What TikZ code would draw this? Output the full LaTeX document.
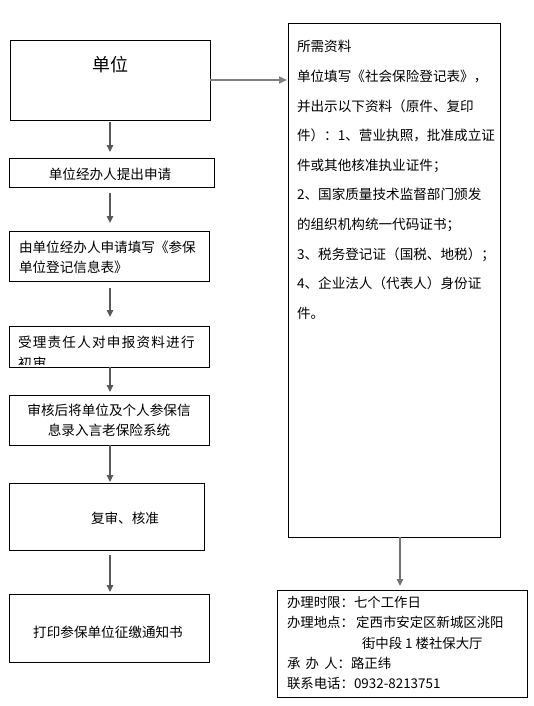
\documentclass[tikz,border=0pt]{standalone}
\usepackage{fontspec}
\setmainfont{Noto Sans CJK SC}
\usetikzlibrary{arrows.meta}
\begin{document}
\begin{tikzpicture}[x=1pt,y=-1pt,
  box/.style={draw=black,line width=0.8pt,minimum width=#1,inner sep=0pt,outer sep=0pt},
  txt/.style={inner sep=0pt,outer sep=0pt,font=\fontsize{13.6}{20}\selectfont},
  flow/.style={draw=black!65,line width=1.1pt,-{Triangle[length=7pt,width=6.5pt]}},
  side/.style={draw=black!50,line width=2pt,-{Triangle[length=8pt,width=7pt]}}
]
\useasboundingbox (0,0) rectangle (534,706);
% boxes
\node[box=200pt,minimum height=80pt] (b1) at (110,80) {};
\node[box=205pt,minimum height=29pt] (b2) at (111.5,172.5) {};
\node[box=200pt,minimum height=50pt] (b3) at (109,256) {};
\node[box=200pt,minimum height=41pt] (b4) at (109,346.5) {};
\node[box=200pt,minimum height=50pt] (b5) at (109,420) {};
\node[box=195pt,minimum height=67pt] (b6) at (106.5,516.5) {};
\node[box=200pt,minimum height=68pt] (b7) at (109,628) {};
\node[box=212pt,minimum height=514pt] (r1) at (394,280) {};
\node[box=250pt,minimum height=107pt] (r2) at (402,643.5) {};
% texts
\node[txt,font=\fontsize{18}{20}\selectfont] (t1) at (110,65) {单位};
\node[txt] (t2) at (110,174) {单位经办人提出申请};
\node[txt,anchor=west,align=left] (t3) at (19,257) {由单位经办人申请填写《参保\\单位登记信息表》};
\begin{scope}
  \clip (10,327) rectangle (208,364);
  \node[txt,anchor=north west,align=left,font=\fontsize{13.6}{21}\selectfont\addfontfeature{LetterSpace=9}] (t4) at (18,336) {受理责任人对申报资料进行\\初审};
\end{scope}
\node[txt,align=center] (t5) at (109,420) {审核后将单位及个人参保信\\息录入言老保险系统};
\node[txt] (t6) at (125,518) {复审、核准};
\node[txt] (t7) at (108,632) {打印参保单位征缴通知书};
\node[txt,anchor=west,align=left,font=\fontsize{13.6}{29.6}\selectfont] (tr1) at (297,180) {所需资料\\
单位填写《社会保险登记表》，\\
并出示以下资料（原件、复印\\
件）：1、营业执照，批准成立证\\
件或其他核准执业证件；\\
2、国家质量技术监督部门颁发\\
的组织机构统一代码证书；\\
3、税务登记证（国税、地税）；\\
4、企业法人（代表人）身份证\\
件。};
\node[txt,anchor=west,align=left,font=\fontsize{13.4}{20.2}\selectfont] (tr2) at (287,643) {办理时限：七个工作日\\
办理地点：\,定西市安定区新城区洮阳\\
\hspace*{75pt}街中段 1 楼社保大厅\\
承\,\ 办\,\ 人：路正纬\\
联系电话：0932-8213751};
% connectors
\draw[flow,shorten <=2pt,shorten >=6pt] (b1.south) -- (b1.south |- b2.north);
\draw[flow,shorten <=6pt,shorten >=8pt] (b1.south |- b2.south) -- (b1.south |- b3.north);
\draw[flow,shorten <=7pt,shorten >=9pt] (b1.south |- b3.south) -- (b1.south |- b4.north);
\draw[flow,shorten >=3pt] (b1.south |- b4.south) -- (b1.south |- b5.north);
\draw[flow,shorten >=1pt] (b1.south |- b5.south) -- (b1.south |- b6.north);
\draw[flow,shorten <=5pt,shorten >=2pt] (b1.south |- b6.south) -- (b1.south |- b7.north);
\draw[side,shorten >=1pt] (b1.east) -- (b1.east -| r1.west);
\coordinate (rd) at (400,537);
\draw[flow,draw=black!55,shorten >=4pt] (rd) -- (rd |- r2.north);
\end{tikzpicture}
\end{document}
